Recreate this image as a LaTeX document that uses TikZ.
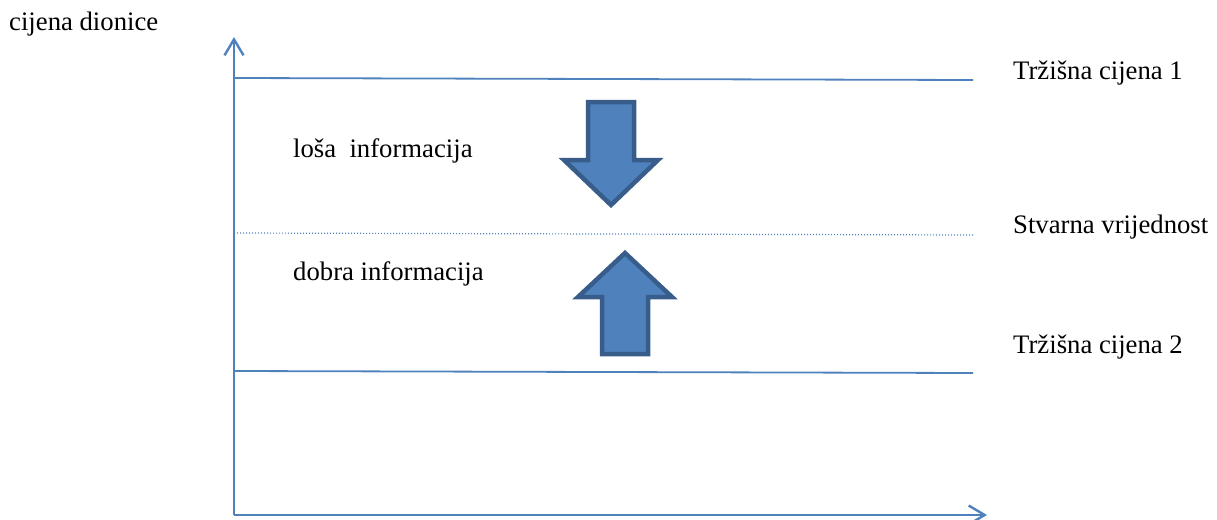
\documentclass[tikz,border=0pt]{standalone}
\usepackage{fontspec}
\setmainfont{Liberation Serif}
\usetikzlibrary{arrows.meta}
\definecolor{axisblue}{HTML}{4F81BD}
\definecolor{arrowfill}{HTML}{4F81BD}
\definecolor{arrowedge}{HTML}{385D8A}
\begin{document}
\begin{tikzpicture}[x=1pt,y=-1pt,
  lbl/.style={anchor=base west,inner sep=0pt,font=\fontsize{26.7}{32}\selectfont},
  axisline/.style={draw=axisblue,line width=2.4pt},
  levelline/.style={draw=axisblue,line width=1.8pt},
  dotline/.style={draw=axisblue,line width=1.2pt,dash pattern=on 1.2pt off 1.8pt},
  bigarrow/.style={draw=arrowedge,fill=arrowfill,line width=4.5pt,miter limit=10}]
\useasboundingbox (0,0) rectangle (1217,519);
% axes
\coordinate (O) at (234,515);
\coordinate (ytop) at (234,37);
\coordinate (xend) at (987,515);
\draw[axisline,-{Straight Barb[length=16pt,width=19pt]}] (O) -- (ytop);
\draw[axisline,-{Straight Barb[length=16pt,width=19pt]}] (O) -- (xend);
% level lines
\coordinate (m1a) at (234,78);
\coordinate (m1b) at (973,80);
\coordinate (sva) at (234,233);
\coordinate (svb) at (973,235);
\coordinate (m2a) at (234,371);
\coordinate (m2b) at (973,373);
\draw[levelline] (m1a) -- (m1b);
\draw[dotline] (sva) -- (svb);
\draw[levelline] (m2a) -- (m2b);
% block arrows
\draw[bigarrow] (588,102) -- (634,102) -- (634,160) -- (658,160) -- (611,205) -- (564,160) -- (588,160) -- cycle;
\draw[bigarrow] (625,253) -- (672,297) -- (648,297) -- (648,354) -- (602,354) -- (602,297) -- (578,297) -- cycle;
% labels
\node[lbl] (yl) at (9,31) {cijena dionice};
\node[lbl] (t1) at (1013,79) {Tržišna cijena 1};
\node[lbl] (sv) at (1013,233) {Stvarna vrijednost};
\node[lbl] (t2) at (1013,353) {Tržišna cijena 2};
\node[lbl] (los) at (293,157) {loša\ \ informacija};
\node[lbl] (dob) at (293,280) {dobra informacija};
\end{tikzpicture}
\end{document}
